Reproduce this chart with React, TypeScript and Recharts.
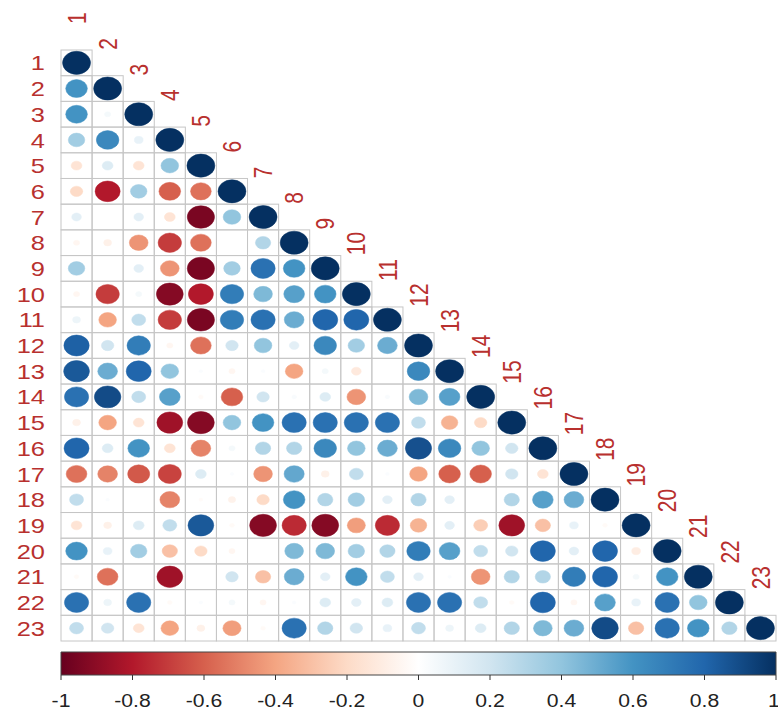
import { ScatterChart, Scatter, XAxis, YAxis, ComposedChart, ReferenceArea } from "recharts";

// variable names (same for rows and columns)
const labels = ["1", "2", "3", "4", "5", "6", "7", "8", "9", "10", "11", "12", "13", "14", "15", "16", "17", "18", "19", "20", "21", "22", "23"];

// lower triangle, row i holds correlations with columns 1..i-1
const row2 = [0.6];
const row3 = [0.6, 0.05];
const row4 = [0.35, 0.65, 0.1];
const row5 = [-0.15, 0.15, -0.15, 0.4];
const row6 = [-0.2, -0.8, 0.35, -0.6, -0.55];
const row7 = [0.12, 0, 0.12, -0.15, -0.95, 0.4];
const row8 = [-0.05, -0.08, -0.45, -0.7, -0.55, 0, 0.3];
const row9 = [0.35, 0, 0.12, -0.45, -0.95, 0.35, 0.75, 0.6];
const row10 = [-0.05, -0.7, 0.05, -0.92, -0.8, 0.7, 0.45, 0.55, 0.6];
const row11 = [0.08, -0.4, 0.25, -0.7, -0.95, 0.7, 0.75, 0.5, 0.8, 0.8];
const row12 = [0.82, 0.2, 0.7, -0.05, -0.55, 0.2, 0.4, 0.12, 0.65, 0.35, 0.5];
const row13 = [0.85, 0.5, 0.8, 0.4, 0.02, -0.05, 0.02, -0.4, 0.05, -0.12, 0, 0.65];
const row14 = [0.75, 0.9, 0.25, 0.55, -0.03, -0.6, 0.2, 0.03, 0.15, -0.45, 0.03, 0.45, 0.55];
const row15 = [-0.08, -0.4, -0.15, -0.85, -0.92, 0.4, 0.6, 0.75, 0.75, 0.75, 0.75, 0.25, -0.35, -0.2];
const row16 = [0.8, 0.15, 0.6, -0.15, -0.5, 0.05, 0.3, 0.3, 0.65, 0.4, 0.5, 0.88, 0.65, 0.4, 0.2];
const row17 = [-0.55, -0.5, -0.62, -0.68, 0.15, 0.02, -0.45, 0.52, -0.08, 0.25, 0.02, -0.4, -0.6, -0.6, 0.2, -0.15];
const row18 = [0.25, 0.02, 0, -0.5, -0.02, -0.07, -0.2, 0.6, 0.3, 0.35, 0.12, 0.3, 0.12, 0, 0.3, 0.55, 0.5];
const row19 = [-0.15, -0.08, 0.15, 0.25, 0.85, -0.03, -0.92, -0.75, -0.92, -0.42, -0.75, -0.35, 0.12, -0.25, -0.85, -0.3, 0.1, -0.03];
const row20 = [0.6, 0.1, 0.35, -0.3, -0.2, -0.05, 0, 0.45, 0.45, 0.35, 0.3, 0.7, 0.55, 0.25, 0.2, 0.8, 0.12, 0.8, -0.1];
const row21 = [-0.03, -0.55, 0, -0.85, 0, 0.2, -0.3, 0.5, 0.12, 0.6, 0.25, 0.12, 0.02, -0.45, 0.3, 0.3, 0.7, 0.8, 0.05, 0.6];
const row22 = [0.75, 0.08, 0.75, -0.03, 0.02, 0.05, -0.05, 0.02, 0.15, 0.12, 0.15, 0.75, 0.75, 0.25, -0.03, 0.8, -0.05, 0.55, 0.1, 0.75, 0.4];
const row23 = [0.25, 0.2, -0.15, -0.4, -0.08, -0.42, -0.03, 0.75, 0.3, 0.2, 0.1, 0.25, 0.08, 0.15, 0.3, 0.45, 0.5, 0.9, -0.3, 0.75, 0.6, 0.3];

const lowerRows = [[], row2, row3, row4, row5, row6, row7, row8, row9, row10, row11, row12, row13, row14, row15, row16, row17, row18, row19, row20, row21, row22, row23];

const colorbarTicks = [-1, -0.8, -0.6, -0.4, -0.2, 0, 0.2, 0.4, 0.6, 0.8, 1];

// RdBu palette used by corrplot
const RDBU = ["#67001F", "#B2182B", "#D6604D", "#F4A582", "#FDDBC7", "#FFFFFF", "#D1E5F0", "#92C5DE", "#4393C3", "#2166AC", "#053061"];

const N = labels.length;
const PLOT_LEFT = 61;
const PLOT_TOP = 50;
const PLOT_W = 715;
const PLOT_H = 591;
const CW = PLOT_W / N;
const CH = PLOT_H / N;
const STRETCH = 1.21; // the original picture is stretched horizontally
const FONT = "'Liberation Sans', Arial, sans-serif";
const LABEL_RED = "#B8302E";

function hex(c: string) {
  return [1, 3, 5].map((i) => parseInt(c.slice(i, i + 2), 16));
}

function corrColor(r: number) {
  const t = ((r + 1) / 2) * 10;
  const i = Math.max(0, Math.min(9, Math.floor(t)));
  const f = t - i;
  const a = hex(RDBU[i]);
  const b = hex(RDBU[i + 1]);
  const m = a.map((v, k) => Math.round(v + (b[k] - v) * f));
  return `rgb(${m[0]},${m[1]},${m[2]})`;
}

const cells: { x: number; y: number; r: number }[] = [];
lowerRows.forEach((vals, ri) => {
  vals.forEach((r, ci) => cells.push({ x: ci + 1, y: ri + 1, r }));
  cells.push({ x: ri + 1, y: ri + 1, r: 1 });
});

function CellShape(props: any) {
  const { cx, cy, payload } = props;
  const s = Math.sqrt(Math.abs(payload.r));
  const col = corrColor(payload.r);
  const isDiag = payload.x === payload.y;
  return (
    <g>
      <rect x={cx - CW / 2} y={cy - CH / 2} width={CW} height={CH} fill="none" stroke="#c6c6c6" strokeWidth={1} />
      {s > 0 && (
        <ellipse cx={cx} cy={cy} rx={0.45 * CW * s} ry={0.45 * CH * s} fill={col} stroke={col} strokeWidth={0.5} />
      )}
      {isDiag && (
        <text
          transform={`translate(${cx},${cy - CH / 2 - 26}) scale(${STRETCH},1) rotate(-90)`}
          textAnchor="start"
          dy="0.36em"
          fontSize={21}
          fontFamily={FONT}
          fill={LABEL_RED}
        >
          {labels[payload.x - 1]}
        </text>
      )}
    </g>
  );
}

function RowTick(props: any) {
  const { x, y, payload } = props;
  return (
    <text
      transform={`translate(${x - 16},${y}) scale(${STRETCH},1)`}
      textAnchor="end"
      dy="0.36em"
      fontSize={21}
      fontFamily={FONT}
      fill={LABEL_RED}
    >
      {labels[payload.value - 1]}
    </text>
  );
}

function BarTick(props: any) {
  const { x, y, payload } = props;
  return (
    <g>
      <line x1={x} x2={x} y1={y} y2={y + 5} stroke="#333" strokeWidth={1} />
      <text
        transform={`translate(${x},${y + 26}) scale(${STRETCH},1)`}
        textAnchor={payload.value === 1 ? "end" : "middle"}
        dx={payload.value === 1 ? 3 : 0}
        dy="0.36em"
        fontSize={17.5}
        fontFamily={FONT}
        fill="#222"
      >
        {payload.value}
      </text>
    </g>
  );
}

export default function App() {
  return (
    <div style={{ position: "absolute", left: 0, top: 0, width: 778, height: 711, background: "#fff" }}>
      <ScatterChart
        width={778}
        height={645}
        margin={{ top: PLOT_TOP, right: 778 - PLOT_LEFT - PLOT_W, bottom: 645 - PLOT_TOP - PLOT_H, left: 0 }}
      >
        <XAxis type="number" dataKey="x" domain={[0.5, N + 0.5]} hide />
        <YAxis
          type="number"
          dataKey="y"
          domain={[0.5, N + 0.5]}
          reversed
          ticks={labels.map((_, i) => i + 1)}
          width={PLOT_LEFT}
          axisLine={false}
          tickLine={false}
          tickSize={0}
          tickMargin={0}
          tick={<RowTick />}
          interval={0}
        />
        <Scatter data={cells} shape={<CellShape />} isAnimationActive={false} />
      </ScatterChart>
      <ComposedChart
        width={778}
        height={66}
        data={colorbarTicks.map((v) => ({ v, h: 1 }))}
        margin={{ top: 7, right: 778 - PLOT_LEFT - PLOT_W, bottom: 0, left: PLOT_LEFT }}
      >
        <defs>
          <linearGradient id="cbGrad" x1="0" y1="0" x2="1" y2="0">
            {RDBU.map((c, i) => (
              <stop key={c} offset={`${i * 10}%`} stopColor={c} />
            ))}
          </linearGradient>
        </defs>
        <XAxis
          type="number"
          dataKey="v"
          domain={[-1, 1]}
          ticks={colorbarTicks}
          interval={0}
          height={36}
          axisLine={false}
          tickLine={false}
          tickSize={0}
          tickMargin={0}
          tick={<BarTick />}
        />
        <YAxis type="number" dataKey="h" domain={[0, 1]} hide />
        <ReferenceArea x1={-1} x2={1} ifOverflow="visible" fill="url(#cbGrad)" fillOpacity={1} stroke="#444" strokeWidth={1} />
      </ComposedChart>
    </div>
  );
}
